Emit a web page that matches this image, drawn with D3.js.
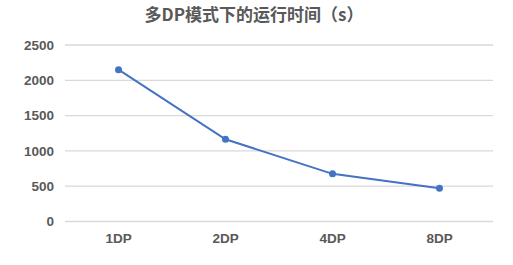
<!DOCTYPE html>
<html>
<head>
<meta charset="utf-8">
<script src="https://cdn.jsdelivr.net/npm/d3@7"></script>
<style>
  body { margin: 0; background: #fff; }
  .tick text { font-family: "Liberation Sans", Arial, sans-serif; font-weight: bold; font-size: 13.5px; fill: #595959; }
</style>
</head>
<body>
<div id="chart"></div>
<script>
// chart data
var categories = ["1DP", "2DP", "4DP", "8DP"];
var runTimes = [2150, 1165, 675, 472];
var yTicks = [0, 500, 1000, 1500, 2000, 2500];
var title = "多DP模式下的运行时间（s）";

var width = 513, height = 265;
var margin = { top: 45, right: 20, bottom: 43, left: 65 };

var svg = d3.select("#chart").append("svg")
    .attr("width", width)
    .attr("height", height);

var x = d3.scaleBand()
    .domain(categories)
    .range([margin.left, width - margin.right]);

var y = d3.scaleLinear()
    .domain([0, 2500])
    .range([height - margin.bottom - 0.5, margin.top]);

// gridlines
svg.append("g")
    .selectAll("line")
    .data(yTicks)
    .enter().append("line")
    .attr("x1", margin.left)
    .attr("x2", width - margin.right)
    .attr("y1", function (d) { return y(d); })
    .attr("y2", function (d) { return y(d); })
    .attr("stroke", "#d9d9d9")
    .attr("stroke-width", 1.3);

// y axis labels
var yAxis = svg.append("g")
    .attr("transform", "translate(" + (margin.left - 11) + ",0)")
    .call(d3.axisLeft(y).tickValues(yTicks).tickFormat(d3.format("d")).tickSize(0).tickPadding(0));
yAxis.select(".domain").remove();

// x axis labels
var xAxis = svg.append("g")
    .attr("transform", "translate(0," + (height - margin.bottom + 7) + ")")
    .call(d3.axisBottom(x).tickSize(0).tickPadding(4));
xAxis.select(".domain").remove();

// line
var line = d3.line()
    .x(function (d, i) { return x(categories[i]) + x.bandwidth() / 2; })
    .y(function (d) { return y(d); });

svg.append("path")
    .datum(runTimes)
    .attr("fill", "none")
    .attr("stroke", "#4472c4")
    .attr("stroke-width", 2)
    .attr("d", line);

svg.selectAll(".dot")
    .data(runTimes)
    .enter().append("circle")
    .attr("class", "dot")
    .attr("cx", function (d, i) { return x(categories[i]) + x.bandwidth() / 2; })
    .attr("cy", function (d) { return y(d); })
    .attr("r", 3.5)
    .attr("fill", "#4472c4");

// title
svg.append("text")
    .attr("x", 254)
    .attr("y", 21)
    .attr("text-anchor", "middle")
    .style("font-family", "'Noto Sans CJK SC', sans-serif")
    .style("font-weight", "bold")
    .style("font-size", "17px")
    .style("fill", "#595959")
    .text(title);
</script>
</body>
</html>
